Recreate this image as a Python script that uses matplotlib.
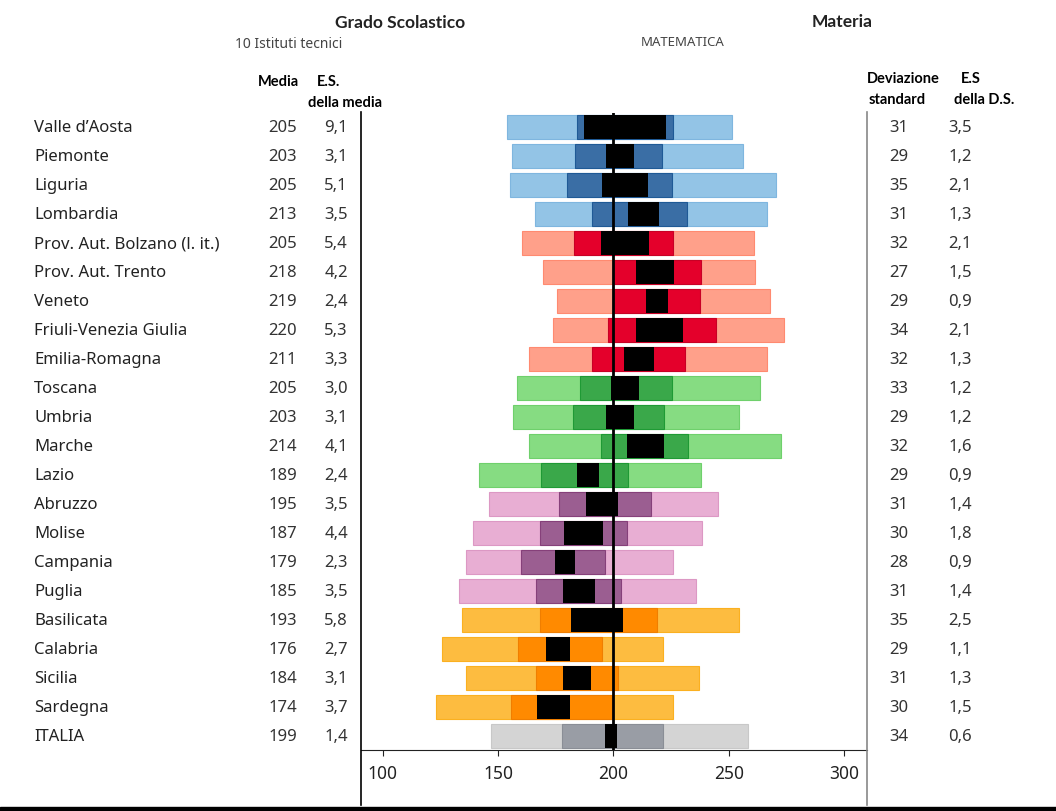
import matplotlib
matplotlib.use("Agg")
import matplotlib.pyplot as plt
import matplotlib.transforms as mtransforms
from matplotlib.lines import Line2D
from matplotlib.patches import Rectangle

plt.rcParams['font.family'] = ['Noto Sans', 'DejaVu Sans']

regions = ["Valle d\u2019Aosta", "Piemonte", "Liguria", "Lombardia",
           "Prov. Aut. Bolzano (l. it.)", "Prov. Aut. Trento", "Veneto",
           "Friuli-Venezia Giulia", "Emilia-Romagna", "Toscana", "Umbria",
           "Marche", "Lazio", "Abruzzo", "Molise", "Campania", "Puglia",
           "Basilicata", "Calabria", "Sicilia", "Sardegna", "ITALIA"]
media = [205, 203, 205, 213, 205, 218, 219, 220, 211, 205, 203, 214, 189,
         195, 187, 179, 185, 193, 176, 184, 174, 199]
es_media = [9.1, 3.1, 5.1, 3.5, 5.4, 4.2, 2.4, 5.3, 3.3, 3.0, 3.1, 4.1, 2.4,
            3.5, 4.4, 2.3, 3.5, 5.8, 2.7, 3.1, 3.7, 1.4]
dev_std = [31, 29, 35, 31, 32, 27, 29, 34, 32, 33, 29, 32, 29, 31, 30, 28,
           31, 35, 29, 31, 30, 34]
es_ds = [3.5, 1.2, 2.1, 1.3, 2.1, 1.5, 0.9, 2.1, 1.3, 1.2, 1.2, 1.6, 0.9,
         1.4, 1.8, 0.9, 1.4, 2.5, 1.1, 1.3, 1.5, 0.6]
p5 = [154, 156, 155, 166, 160.5, 169.5, 175.5, 174, 163.5, 158, 156.5, 163.5,
      141.5, 146, 139, 136, 133, 134.5, 125.5, 136, 123, 147]
p25 = [184, 183.5, 180, 190.5, 183, 200, 200, 197.5, 190.5, 185.5, 182.5,
       194.5, 168.5, 176.5, 168, 160, 166.5, 168, 158.5, 166.5, 155.5, 177.5]
p75 = [226, 221, 225.5, 232, 226, 238, 237.5, 244.5, 231, 225.5, 222, 232.5,
       206.5, 216.5, 206, 196.5, 203.5, 219, 195, 202, 199.5, 221.5]
p95 = [251.5, 256, 270.5, 266.5, 261, 261.5, 268, 274, 266.5, 263.5, 254.5,
       272.5, 238, 245.5, 238.5, 226, 236, 254.5, 221.5, 237, 226, 258.5]
# area of each row -> colour group
area = [0] * 4 + [1] * 5 + [2] * 4 + [3] * 4 + [4] * 4 + [5]

light = ['#93c4e6', '#ffa08a', '#86dc82', '#e8aed3', '#fdbc40', '#d4d4d4']
dark = ['#3a6ea5', '#e4002b', '#3aa84a', '#9b5e91', '#ff8a00', '#999da5']
light_edge = ['#7fb6df', '#ff8a70', '#6fd06c', '#dc98c4', '#fbb020', '#c8c8c8']
dark_edge = ['#1f5a96', '#c80025', '#1f9a35', '#86407a', '#f07e00', '#8a8e96']

W, H = 1056, 812
fig = plt.figure(figsize=(W / 100, H / 100), dpi=100)
ax = fig.add_axes([361 / W, 1 - 751 / H, (867 - 361) / W, (751 - 114) / H])

bh = 0.8
for i in range(len(regions)):
    a = area[i]
    ax.barh(i, p95[i] - p5[i], left=p5[i], height=bh, color=light[a],
            edgecolor=light_edge[a], linewidth=0.8)
    ax.barh(i, p75[i] - p25[i], left=p25[i], height=bh, color=dark[a],
            edgecolor=dark_edge[a], linewidth=0.8)
    lo = media[i] - 1.96 * es_media[i]
    hi = media[i] + 1.96 * es_media[i]
    ax.barh(i, hi - lo, left=lo, height=bh, color='black', linewidth=0)

ax.axvline(200, color='black', linewidth=2, zorder=5)

ax.set_xlim(90.5, 310)
ax.set_ylim(len(regions) - 0.517, -0.483)
ax.set_yticks([])
ax.set_xticks([100, 150, 200, 250, 300])
ax.tick_params(axis='x', labelsize=12.5, length=4, width=0.8, pad=6,
               colors='#222222')
for s in ['top', 'left', 'right']:
    ax.spines[s].set_visible(False)
ax.spines['bottom'].set_color('#222222')

# left and right table rules
fig.add_artist(Line2D([361 / W, 361 / W], [1 - 113 / H, 1 - 806 / H],
                      color='black', linewidth=1.2))
fig.add_artist(Line2D([867 / W, 867 / W], [1 - 113 / H, 1 - 806 / H],
                      color='#888888', linewidth=1.2))
fig.add_artist(Rectangle((0, 0), 1, 4.5 / H, transform=fig.transFigure,
                         color='black'))

trans = mtransforms.blended_transform_factory(fig.transFigure, ax.transData)
fs = 12
for i, name in enumerate(regions):
    fig.text(34 / W, i, name, transform=trans, fontsize=fs, va='center',
             ha='left', color='#222222')
    fig.text(297 / W, i, str(media[i]), transform=trans, fontsize=fs,
             va='center', ha='right', color='#333333')
    fig.text(348 / W, i, f"{es_media[i]:.1f}".replace('.', ','),
             transform=trans, fontsize=fs, va='center', ha='right',
             color='#333333')
    fig.text(908 / W, i, str(dev_std[i]), transform=trans, fontsize=fs,
             va='center', ha='right', color='#333333')
    fig.text(972 / W, i, f"{es_ds[i]:.1f}".replace('.', ','),
             transform=trans, fontsize=fs, va='center', ha='right',
             color='#333333')


def ftext(x, y, s, bold=False, **kw):
    fam = ['Lato', 'DejaVu Sans'] if bold else ['Noto Sans', 'DejaVu Sans']
    fig.text(x / W, 1 - y / H, s, ha='center', va='center', family=fam,
             fontweight='bold' if bold else 'normal', **kw)


ftext(400, 23, "Grado Scolastico", bold=True, fontsize=12.5, color='#222222')
ftext(289, 44, "10 Istituti tecnici", fontsize=10, color='#444444')
ftext(842, 22, "Materia", bold=True, fontsize=12.5, color='#222222')
ftext(683, 43, "MATEMATICA", fontsize=9.5, color='#444444')
ftext(278, 82, "Media", bold=True, fontsize=10.5, color='black')
ftext(329, 82, "E.S.", bold=True, fontsize=10.5, color='black')
ftext(345, 103, "della media", bold=True, fontsize=10.5, color='black')
ftext(903, 79, "Deviazione", bold=True, fontsize=10.5, color='black')
ftext(897, 100, "standard", bold=True, fontsize=10.5, color='black')
ftext(971, 79, "E.S", bold=True, fontsize=10.5, color='black')
ftext(984, 100, "della D.S.", bold=True, fontsize=10.5, color='black')

fig.savefig("out.png", dpi=100)
